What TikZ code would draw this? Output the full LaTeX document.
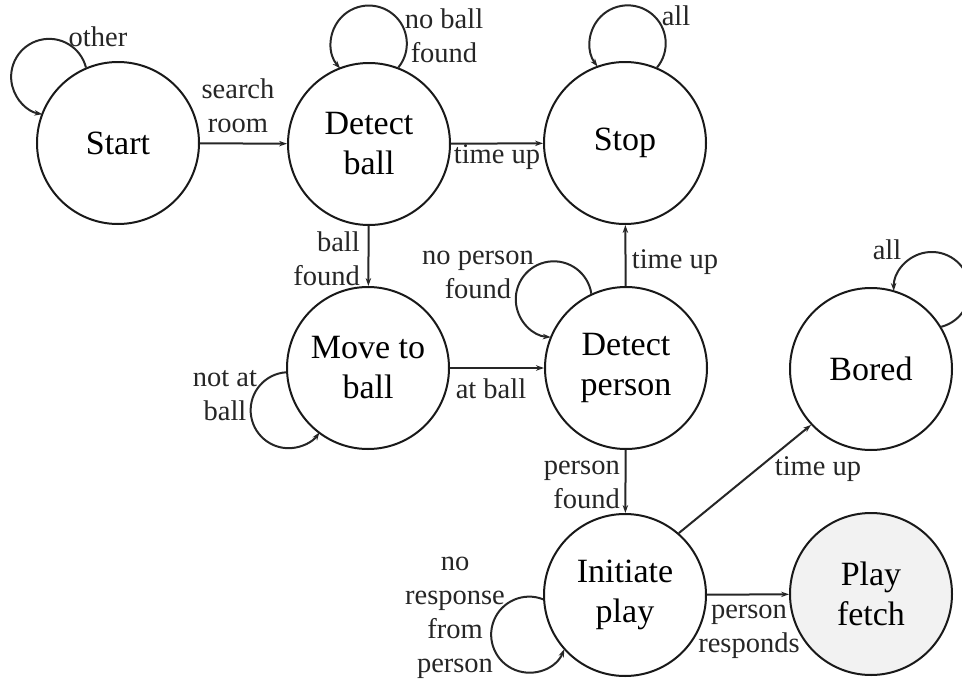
\documentclass[tikz,border=0pt]{standalone}
\usepackage{fontspec}
\setmainfont{Liberation Serif}
\usetikzlibrary{arrows.meta}
% #1 node, #2 direction of the loop, #3 distance of loop centre from node centre
\newcommand{\mkloop}[3]{%
  \pgfmathsetmacro{\lpe}{#3/10}%
  \pgfmathsetmacro{\lpa}{acos((65.61+\lpe*\lpe-14.44)/(16.2*\lpe))}%
  \pgfmathsetmacro{\lpg}{acos((14.44+\lpe*\lpe-65.61)/(7.6*\lpe))}%
  \pgfmathsetmacro{\lpA}{#2-\lpa}%
  \pgfmathsetmacro{\lpB}{#2-180+\lpg}%
  \pgfmathsetmacro{\lpC}{#2+180-\lpg}%
  \draw[tr] (#1.\lpA) arc[start angle=\lpB, end angle=\lpC, radius=38];}
\begin{document}
\begin{tikzpicture}[x=1pt,y=1pt,
  state/.style={circle, draw=black!90, line width=2pt, minimum size=162pt, inner sep=0pt, align=center, font=\fontsize{34}{40}\selectfont},
  lbl/.style={font=\fontsize{28.5}{34}\selectfont, align=center, inner sep=0pt, text=black!85},
  tr/.style={line width=2pt, draw=black!85, -{Stealth[length=8pt,width=5.5pt]}},
]
\useasboundingbox (0,0) rectangle (962,-680);

\node[state] (S) at (118,-143) {Start};
\node[state] (DB) at (369,-144) {Detect\\ball};
\node[state] (ST) at (625,-143) {Stop};
\node[state] (MB) at (368,-368) {Move to\\ball};
\node[state] (DP) at (626,-368) {Detect\\person};
\node[state] (BO) at (871,-369) {Bored};
\node[state] (IP) at (625,-595) {Initiate\\play};
\node[state, fill=black!5] (PF) at (871,-594) {Play\\fetch};

\draw[tr] (S) -- (DB);
\draw[tr] (DB) -- (ST);
\draw[tr] (DB) -- (MB);
\draw[tr] (MB) -- (DP);
\draw[tr] (DP) -- (ST);
\draw[tr] (DP) -- (IP);
\draw[tr] (IP.49) -- (BO.223);
\draw[tr] (IP) -- (PF);

\mkloop{S}{137}{95}
\mkloop{DB}{91}{100}
\mkloop{ST}{89}{99}
\mkloop{DP}{137}{99}
\mkloop{MB}{209}{89.5}
\mkloop{BO}{53}{99}
\mkloop{IP}{203}{103}

\node[lbl] (l1) at (98,-37) {other};
\node[lbl] (l2) at (238,-106) {search\\room};
\node[lbl] (l3) at (444,-36) {no ball\\found};
\node[lbl] (l4) at (676,-16) {all};
\node[lbl] (l5) at (497,-157) {time up};
\node[lbl, anchor=east, align=right] (l6) at (360,-259) {ball\\found};
\node[lbl] (l7) at (478,-275) {no person\\found};
\node[lbl] (l8) at (675,-262) {time up};
\node[lbl] (l9) at (225,-396) {not at\\ball};
\node[lbl] (l10) at (491,-389) {at ball};
\node[lbl] (l11) at (887,-250) {all};
\node[lbl, anchor=east, align=right] (l12) at (620,-485) {person\\found};
\node[lbl] (l13) at (818,-469) {time up};
\node[lbl] (l14) at (455,-618) {no\\response\\from\\person};
\node[lbl] (l15) at (749,-632) {person\\responds};
\end{tikzpicture}
\end{document}
